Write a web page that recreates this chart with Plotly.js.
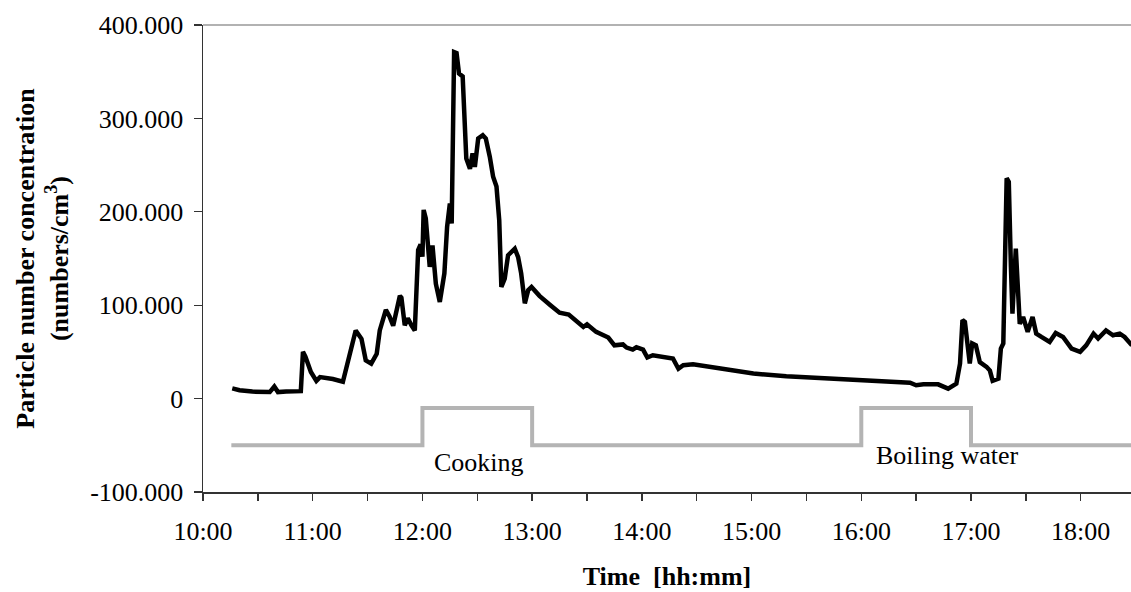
<!DOCTYPE html>
<html>
<head>
<meta charset="utf-8">
<script src="https://cdn.plot.ly/plotly-3.0.1.min.js"></script>
<style>html,body{margin:0;padding:0;background:#fff;}#chart{width:1131px;height:592px;}</style>
</head>
<body>
<div id="chart"></div>
<script>
// Particle number concentration (numbers/cm3) over time
const times = [
"10:16:00","10:20:00","10:27:00","10:36:30","10:39:00","10:41:00","10:45:30","10:52:00","10:53:30","10:54:40",
"10:56:00","10:59:00","11:02:00","11:04:00","11:11:00","11:16:30","11:19:00","11:23:30","11:26:40","11:29:00",
"11:32:00","11:35:00","11:36:40","11:40:00","11:42:00","11:44:00","11:47:40","11:48:30","11:50:20","11:52:00",
"11:54:00","11:55:50","11:57:40","11:59:00","12:00:00","12:00:40","12:01:50","12:03:00","12:04:00","12:05:30",
"12:07:20","12:09:30","12:12:00","12:13:30","12:15:00","12:16:00","12:17:20","12:18:40","12:20:00","12:22:00",
"12:24:00","12:26:00","12:27:25","12:28:40","12:30:30","12:33:00","12:34:40","12:36:50","12:38:40","12:40:30",
"12:42:00","12:43:10","12:45:00","12:46:50","12:50:30","12:52:20","12:54:00","12:56:00","12:57:50","12:59:40",
"13:04:00","13:10:00","13:15:00","13:20:00","13:23:00","13:28:00","13:30:00","13:35:00","13:41:40","13:45:00",
"13:49:40","13:51:40","13:55:00","13:57:00","14:00:40","14:03:00","14:06:00","14:11:40","14:17:00","14:20:00",
"14:22:40","14:28:00","14:35:00","14:42:40","14:51:50","15:01:00","15:19:00","15:37:00","15:55:40","16:14:00",
"16:26:40","16:30:00","16:34:00","16:42:00","16:43:00","16:47:30","16:52:00","16:54:00","16:55:20","16:56:40",
"16:59:20","17:00:40","17:02:40","17:04:50","17:08:30","17:10:20","17:11:50","17:15:00","17:16:20","17:17:40",
"17:19:30","17:20:40","17:21:50","17:22:40","17:24:30","17:25:50","17:26:40","17:28:30","17:31:00","17:33:40",
"17:35:40","17:38:30","17:43:00","17:46:20","17:50:20","17:55:00","17:59:40","18:03:00","18:07:00","18:09:30",
"18:13:50","18:17:40","18:21:20","18:24:00","18:27:00","18:28:00"
];
const concentration = [
11000,9000,7500,7000,13000,7000,7500,7000,8000,50000,
45000,28500,19000,23000,21000,18000,37500,73000,64000,41000,
37500,48000,73000,95000,88000,78000,110000,108000,78500,86000,
78500,73000,159000,165000,152000,202000,193000,159000,141000,164000,
123000,103500,134000,184000,209000,187500,371000,370000,348000,345000,
257000,246000,262500,248000,278500,282000,278500,259000,237500,227000,
191000,119500,128500,153500,160500,151500,134000,102000,116000,119500,
110000,100000,92000,90000,84500,76700,79600,71400,65400,57000,
58000,54600,52500,55000,52500,44000,46400,44600,42900,32000,
35700,36800,34600,32000,28500,26800,24000,22000,20400,18500,
17000,14300,15300,15300,14300,10700,16000,37500,84000,82000,
37500,59000,57000,39000,34000,30000,19000,21400,53600,59000,
236000,232000,141000,91000,160500,98000,80000,87400,71400,87400,
69600,66000,60600,70300,66000,53600,50000,57000,69600,64300,
73000,67800,69600,66000,59000,57000
];
// Activity marker (step line)
const activityTimes = ["10:15:30","12:00:00","12:00:00","13:00:00","13:00:00","16:00:00","16:00:00","17:00:00","17:00:00","18:30:00"];
const activityLevel = [-50000,-50000,-10000,-10000,-50000,-50000,-10000,-10000,-50000,-50000];
const activityLabels = ["Cooking","Boiling water"];
const activityLabelTimes = ["12:31:00","16:47:00"];
const activityLabelLevels = [-68000,-61000];
// Axis ticks
const yTickVals = [-100000,0,100000,200000,300000,400000];
const yTickText = ["-100.000","0","100.000","200.000","300.000","400.000"];

const day = "2000-01-01 ";
const d = t => day + t;

const traces = [
  {x: activityTimes.map(d), y: activityLevel, type:"scatter", mode:"lines",
   line:{color:"#b4b4b4", width:4}, hoverinfo:"skip", showlegend:false},
  {x: times.map(d), y: concentration, type:"scatter", mode:"lines",
   line:{color:"#000", width:4.5, shape:"linear"}, showlegend:false}
];

const font = "'Liberation Serif', 'Times New Roman', Times, serif";
const layout = {
  width:1131, height:592,
  margin:{l:203, r:0, t:25, b:100},
  paper_bgcolor:"#fff", plot_bgcolor:"#fff",
  font:{family:font, size:26, color:"#000"},
  showlegend:false,
  xaxis:{
    type:"date",
    range:[d("10:00:00"), d("18:27:30")],
    tickformat:"%H:%M", dtick:3600000, tick0:d("10:00:00"),
    ticks:"outside", ticklen:7, tickwidth:1.3, tickcolor:"#333",
    minor:{dtick:1800000, tick0:d("10:00:00"), ticks:"outside", ticklen:7, tickwidth:1.3, tickcolor:"#333", showgrid:false},
    showline:true, linecolor:"#333", linewidth:1.5,
    showgrid:false, zeroline:false,
    tickfont:{family:font, size:26, color:"#000"},
    ticklabelstandoff:8,
    title:{text:"<b>Time\u00a0\u00a0[hh:mm]</b>", font:{family:font, size:26, color:"#000"}, standoff:22}
  },
  yaxis:{
    range:[-100000,400000],
    tickvals:yTickVals, ticktext:yTickText,
    ticks:"outside", ticklen:8, tickwidth:1.3, tickcolor:"#333",
    showline:true, linecolor:"#333", linewidth:1.5,
    showgrid:false, zeroline:false,
    tickfont:{family:font, size:26, color:"#000"},
    ticklabelstandoff:5,
    title:{text:"<b>Particle number concentration<br>(numbers/cm<sup>3</sup>)</b>", font:{family:font, size:26, color:"#000"}, standoff:14}
  },
  shapes:[
    {type:"line", xref:"paper", yref:"paper", x0:0, x1:1, y0:1, y1:1, line:{color:"#999", width:1.5}}
  ],
  annotations: activityLabels.map((txt,i)=>({
    x:d(activityLabelTimes[i]), y:activityLabelLevels[i], xref:"x", yref:"y",
    text:txt, showarrow:false, font:{family:font, size:26, color:"#000"}
  }))
};

Plotly.newPlot("chart", traces, layout, {displayModeBar:false, staticPlot:true});
</script>
</body>
</html>
